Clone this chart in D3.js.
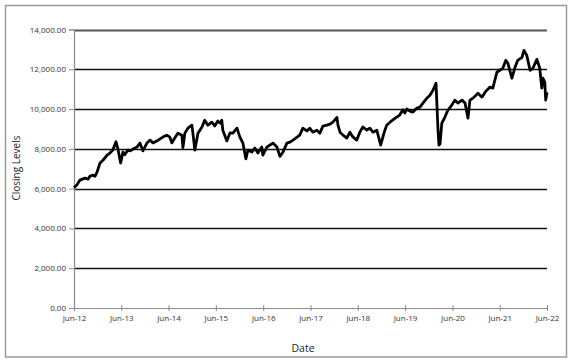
<!DOCTYPE html>
<html>
<head>
    <title>Closing Levels</title>
    <script src="https://d3js.org/d3.v7.min.js"></script>
    <style>
        body { margin: 0; background: #fff; }
        text { font-family: "Open Sans", "Noto Sans", sans-serif; fill: #222; }
    </style>
</head>
<body>
    <script>
        // closing levels, one row per year
        var dates = [
            "2012-06-01", "2012-06-24", "2012-07-17", "2012-08-25", "2012-09-17", "2012-10-03", "2012-10-26", "2012-11-10", "2012-11-26", "2012-12-19",
            "2013-01-12", "2013-02-12", "2013-03-05", "2013-03-28", "2013-04-21", "2013-05-06", "2013-05-27", "2013-06-14", "2013-06-28", "2013-07-22", "2013-08-10", "2013-08-30", "2013-09-30", "2013-10-23", "2013-11-15", "2013-12-16",
            "2014-01-09", "2014-02-01", "2014-03-02", "2014-03-25", "2014-04-18", "2014-05-18", "2014-06-11", "2014-06-26", "2014-07-19", "2014-08-12", "2014-09-12", "2014-09-20", "2014-10-05", "2014-10-28", "2014-11-28", "2014-12-06", "2014-12-21",
            "2015-01-14", "2015-02-14", "2015-03-07", "2015-04-01", "2015-05-01", "2015-05-24", "2015-06-16", "2015-07-05", "2015-07-17", "2015-07-25", "2015-08-25", "2015-09-18", "2015-10-11", "2015-11-11", "2015-12-04", "2015-12-27",
            "2016-01-19", "2016-02-04", "2016-03-05", "2016-03-28", "2016-04-21", "2016-05-21", "2016-05-29", "2016-06-29", "2016-07-22", "2016-08-15", "2016-09-15", "2016-10-08", "2016-11-01", "2016-12-01", "2016-12-24",
            "2017-01-17", "2017-02-17", "2017-03-10", "2017-04-03", "2017-05-04", "2017-05-26", "2017-06-19", "2017-07-20", "2017-08-12", "2017-09-05", "2017-10-06", "2017-10-29", "2017-11-21", "2017-12-22", "2017-12-30",
            "2018-01-15", "2018-02-07", "2018-03-08", "2018-04-01", "2018-04-24", "2018-05-24", "2018-06-17", "2018-07-10", "2018-08-10", "2018-09-02", "2018-09-26", "2018-10-26", "2018-11-25", "2018-12-20",
            "2019-01-10", "2019-02-05", "2019-03-17", "2019-04-21", "2019-05-14", "2019-05-30", "2019-06-15", "2019-07-08", "2019-08-01", "2019-09-01", "2019-09-24", "2019-10-17", "2019-11-17", "2019-12-10",
            "2020-01-03", "2020-01-26", "2020-02-03", "2020-02-10", "2020-02-18", "2020-02-26", "2020-03-11", "2020-04-04", "2020-04-27", "2020-05-27", "2020-06-20", "2020-07-13", "2020-08-13", "2020-09-06", "2020-09-29", "2020-10-14", "2020-11-07", "2020-12-15",
            "2021-01-15", "2021-02-08", "2021-03-16", "2021-04-09", "2021-05-10", "2021-06-02", "2021-06-25", "2021-07-18", "2021-08-03", "2021-09-03", "2021-09-27", "2021-10-18", "2021-11-20", "2021-12-05", "2021-12-27",
            "2022-01-21", "2022-02-12", "2022-03-15", "2022-04-06", "2022-04-22", "2022-05-01", "2022-05-15", "2022-05-22", "2022-06-01"
        ];
        var closes = [
            6050, 6200, 6430, 6530, 6480, 6630, 6680, 6620, 6830, 7290,
            7440, 7690, 7790, 7940, 8360, 8000, 7290, 7840, 7700, 7940, 7900, 7990, 8090, 8290, 7900, 8290,
            8440, 8300, 8390, 8490, 8590, 8690, 8590, 8300, 8540, 8790, 8690, 8060, 8790, 9040, 9190, 8790, 7940,
            8790, 9100, 9440, 9190, 9340, 9150, 9400, 9290, 9440, 8940, 8400, 8800, 8790, 9040, 8590, 8290,
            7500, 7940, 7840, 8040, 7790, 8090, 7690, 8090, 8190, 8290, 8090, 7620, 7840, 8290, 8340,
            8440, 8590, 8690, 9040, 8900, 9040, 8840, 8940, 8790, 9140, 9190, 9240, 9340, 9580, 9190,
            8840, 8690, 8540, 8840, 8600, 8440, 8840, 9100, 8940, 9040, 8840, 8940, 8190, 8790,
            9190, 9340, 9540, 9700, 9950, 9800, 10000, 9900, 9850, 10050, 10100, 10300, 10550, 10700,
            10950, 11300, 10100, 9000, 8190, 8250, 9290, 9600, 9950, 10200, 10450, 10300, 10450, 10300, 9540, 10450, 10550, 10800,
            10600, 10850, 11100, 11050, 11850, 11950, 12050, 12450, 12300, 11550, 12100, 12450, 12600, 12950, 12700,
            11950, 12050, 12500, 12050, 11050, 11550, 11350, 10450, 10850
        ];
        var yTicks = [0, 2000, 4000, 6000, 8000, 10000, 12000, 14000];
        var xTickYears = [2012, 2013, 2014, 2015, 2016, 2017, 2018, 2019, 2020, 2021, 2022];

        var width = 575, height = 363;
        var margin = { left: 74, right: 28, top: 29.5, bottom: 55 };

        var parse = d3.timeParse("%Y-%m-%d");
        var data = dates.map(function (d, i) { return { date: parse(d), value: closes[i] }; });

        var svg = d3.select("body").append("svg")
            .attr("width", width)
            .attr("height", height);

        // chart border
        svg.append("rect")
            .attr("x", 5.5).attr("y", 5.5)
            .attr("width", 561).attr("height", 351.5)
            .style("fill", "none")
            .style("stroke", "#9a9a9a")
            .style("stroke-width", 1.5);

        var x = d3.scaleTime()
            .domain([new Date(2012, 5, 1), new Date(2022, 5, 1)])
            .range([margin.left, width - margin.right]);

        var y = d3.scaleLinear()
            .domain([0, 14000])
            .range([height - margin.bottom, margin.top]);

        // gridlines
        svg.append("g")
            .selectAll("line")
            .data(yTicks.filter(function (d) { return d > 0; }))
            .enter().append("line")
            .attr("x1", margin.left)
            .attr("x2", width - margin.right)
            .attr("y1", function (d) { return Math.round(y(d)) + 0.5; })
            .attr("y2", function (d) { return Math.round(y(d)) + 0.5; })
            .style("stroke", function (d) { return d === 14000 ? "#555" : "#111"; })
            .style("stroke-width", function (d) { return d === 14000 ? 2 : 1.4; });

        var yAxis = svg.append("g")
            .attr("transform", "translate(" + margin.left + ",0)")
            .call(d3.axisLeft(y)
                .tickValues(yTicks)
                .tickSize(5)
                .tickPadding(3)
                .tickFormat(d3.format(",.2f")));

        var xAxis = svg.append("g")
            .attr("transform", "translate(0," + (height - margin.bottom) + ")")
            .call(d3.axisBottom(x)
                .tickValues(xTickYears.map(function (yr) { return new Date(yr, 5, 1); }))
                .tickSizeInner(3)
                .tickSizeOuter(0)
                .tickPadding(4)
                .tickFormat(d3.timeFormat("%b-%y")));

        xAxis.selectAll(".tick line").attr("y1", -3);

        [yAxis, xAxis].forEach(function (ax) {
            ax.select(".domain").style("stroke", "#8c8c8c").style("stroke-width", 1.2);
            ax.selectAll(".tick line").style("stroke", "#8c8c8c");
            ax.selectAll("text").style("font-size", "8px").style("fill", "#333")
                .style("font-family", "'Open Sans', sans-serif");
        });

        var line = d3.line()
            .x(function (d) { return x(d.date); })
            .y(function (d) { return y(d.value); });

        svg.append("path")
            .datum(data)
            .attr("d", line)
            .style("fill", "none")
            .style("stroke", "#000")
            .style("stroke-width", 2.8)
            .style("stroke-linejoin", "round");

        svg.append("text")
            .attr("x", 303)
            .attr("y", 352)
            .attr("text-anchor", "middle")
            .style("font-size", "10.5px")
            .text("Date");

        svg.append("text")
            .attr("transform", "translate(20,168) rotate(-90)")
            .attr("text-anchor", "middle")
            .style("font-size", "10px")
            .text("Closing Levels");
    </script>
</body>
</html>
